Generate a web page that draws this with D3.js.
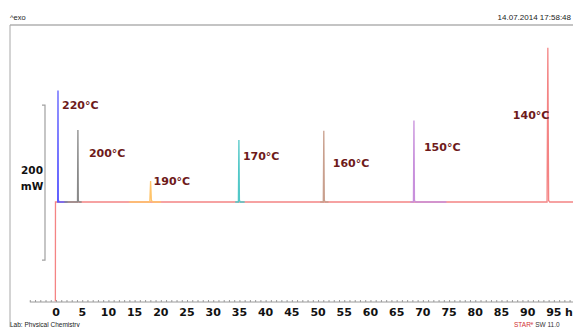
<!DOCTYPE html>
<html>
<head>
<meta charset="utf-8">
<script src="https://cdn.jsdelivr.net/npm/d3@7"></script>
<style>
  html, body { margin: 0; padding: 0; background: #fff; }
  svg { display: block; }
</style>
</head>
<body>
<div id="chart"></div>
<script>
// Isothermal DSC runs: heat flow (mW, relative to baseline) against time (h)
const temperatures = ["220°C", "200°C", "190°C", "170°C", "160°C", "150°C", "140°C"];
const seriesColors = ["#5b5bff", "#8a8a8a", "#ffc46a", "#52c8c8", "#c9a08e", "#c890dc", "#f48484"];

const run220 = [[0.2, 0], [0.32, 0], [0.38, 144], [0.44, 3], [0.55, 0], [2.2, 0]];
const run200 = [[1.6, 0], [4.1, 0], [4.18, 93], [4.26, 2], [4.4, 0], [4.9, 0]];
const run190 = [[14.0, 0], [17.9, 0], [18.05, 27], [18.2, 2], [18.5, 0], [20.0, 0]];
const run170 = [[34.2, 0], [34.8, 0], [34.9, 80], [35.0, 2], [35.2, 0], [36.0, 0]];
const run160 = [[50.4, 0], [51.0, 0], [51.1, 92], [51.2, 2], [51.4, 0], [52.0, 0]];
const run150 = [[67.6, 0], [68.2, 0], [68.3, 105], [68.4, 2], [68.6, 0], [74.5, 0]];
const run140 = [[-0.12, -128], [-0.1, 0], [93.7, 0], [93.85, 199], [94.0, 2], [94.2, 0], [98.7, 0]];

const runs = [run220, run200, run190, run170, run160, run150, run140];

const majorTicks = d3.range(0, 96, 5);
const minorTicks = d3.range(-5, 99, 1);
const timeUnit = "h";
const scaleBarSpan = [-75, 125];   // 200 mW reference bar
const scaleBarText = ["200", "mW"];

const W = 573, H = 327;
const svg = d3.select("#chart").append("svg").attr("width", W).attr("height", H)
  .style("font-family", "'DejaVu Sans', Verdana, sans-serif");

const x = d3.scaleLinear().domain([-5, 98.65]).range([29.8, 573]);
const y = d3.scaleLinear().domain([-160, 240]).range([326, 16]);

// frame
svg.append("line").attr("x1", 10).attr("x2", W).attr("y1", 25).attr("y2", 25)
  .attr("stroke", "#c4c4c4").attr("stroke-width", 2);
svg.append("line").attr("x1", 10).attr("x2", 10).attr("y1", 25).attr("y2", H)
  .attr("stroke", "#a8a8a8").attr("stroke-width", 1);

// header
svg.append("text").attr("x", 10).attr("y", 20).attr("font-size", 7.5).attr("fill", "#222")
  .attr("font-family", "'Liberation Sans', Arial, sans-serif").text("^exo");
svg.append("text").attr("x", 571).attr("y", 20).attr("font-size", 8).attr("fill", "#222")
  .attr("text-anchor", "end").attr("font-family", "'Liberation Sans', Arial, sans-serif")
  .text("14.07.2014 17:58:48");

// time axis
const axisY = 302;
const axis = d3.axisTop(x).tickValues(minorTicks).tickSize(2).tickFormat("");
const ag = svg.append("g").attr("transform", `translate(0,${axisY})`).call(axis);
ag.select(".domain").attr("stroke", "#9a9a9a").attr("d", `M${x(-5)},0H${W}`);
ag.selectAll(".tick line").attr("stroke", "#9a9a9a");

svg.append("g").selectAll("text").data(majorTicks).join("text")
  .attr("x", d => x(d)).attr("y", 316).attr("text-anchor", "middle")
  .attr("font-size", 11).attr("font-weight", "bold").attr("fill", "#111")
  .text(d => d);
svg.append("text").attr("x", x(95) + 15).attr("y", 316).attr("text-anchor", "middle")
  .attr("font-size", 11).attr("font-weight", "bold").attr("fill", "#111").text(timeUnit);

// 200 mW scale bar
const bx = 45;
svg.append("path")
  .attr("d", `M${bx - 3},${y(scaleBarSpan[1])}H${bx}V${y(scaleBarSpan[0])}H${bx - 3}`)
  .attr("fill", "none").attr("stroke", "#a0a0a0").attr("stroke-width", 1.2);
svg.append("text").attr("x", 32).attr("y", 174).attr("text-anchor", "middle")
  .attr("font-size", 10.5).attr("font-weight", "bold").attr("fill", "#111").text(scaleBarText[0]);
svg.append("text").attr("x", 32).attr("y", 190).attr("text-anchor", "middle")
  .attr("font-size", 10.5).attr("font-weight", "bold").attr("fill", "#111").text(scaleBarText[1]);

// curves: the long 140°C run goes underneath the shorter ones
const line = d3.line().x(d => x(d[0])).y(d => y(d[1]));
const drawOrder = [6, 0, 1, 2, 3, 4, 5];
svg.append("g").selectAll("path").data(drawOrder).join("path")
  .attr("d", i => line(runs[i]))
  .attr("fill", "none")
  .attr("stroke", i => seriesColors[i])
  .attr("stroke-width", 1.3);

// temperature labels beside each crystallisation peak
const labelSpots = [
  { dx: 4, y: 109 }, { dx: 11, y: 157 }, { dx: 3, y: 185 }, { dx: 4, y: 160 },
  { dx: 9, y: 167 }, { dx: 10, y: 151 }, { dx: -35, y: 119 }
];
svg.append("g").selectAll("text").data(temperatures).join("text")
  .attr("x", (d, i) => {
    const r = runs[i];
    const peak = r.reduce((a, b) => (b[1] > a[1] ? b : a));
    return x(peak[0]) + labelSpots[i].dx;
  })
  .attr("y", (d, i) => labelSpots[i].y)
  .attr("font-size", 11).attr("font-weight", "bold").attr("fill", "#6e1a1a")
  .text(d => d);

// footer
svg.append("text").attr("x", 10).attr("y", 326.5).attr("font-size", 6.5).attr("fill", "#222")
  .attr("font-family", "'Liberation Sans', Arial, sans-serif").text("Lab: Physical Chemistry");
const foot = svg.append("text").attr("x", 514).attr("y", 326.5).attr("font-size", 6.5)
  .attr("font-family", "'Liberation Sans', Arial, sans-serif");
foot.append("tspan").attr("fill", "#d03030").text("STAR");
foot.append("tspan").attr("fill", "#d03030").attr("font-size", 4.5).attr("dy", -2).text("e");
foot.append("tspan").attr("fill", "#333").attr("dy", 2).text(" SW 11.0");
</script>
</body>
</html>
